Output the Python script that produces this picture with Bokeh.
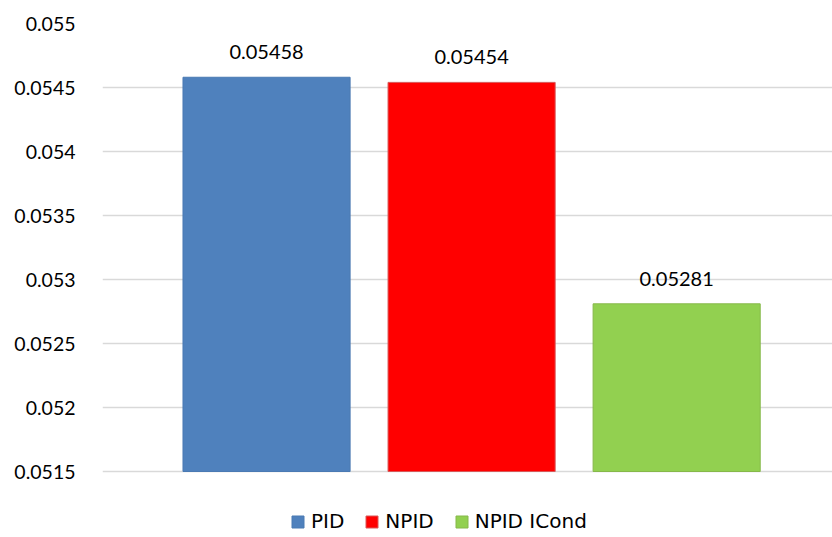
from bokeh.plotting import figure
from bokeh.models import (ColumnDataSource, Range1d, FixedTicker, CustomJSTickFormatter,
                          Legend, LegendItem, LabelSet)
from bokeh.core.properties import value
from bokeh.embed import file_html
from bokeh.resources import INLINE

# Data
series = ["PID", "NPID", "NPID ICond"]
values = [0.05458, 0.05454, 0.05281]
labels = ["0.05458", "0.05454", "0.05281"]
fill_colors = ["#4F81BD", "#FF0000", "#92D050"]
line_colors = ["#4A7AB3", "#D85858", "#86B84A"]
y_ticks = [0.0515, 0.052, 0.0525, 0.053, 0.0535, 0.054, 0.0545, 0.055]

FONT = "Lato"
LEGEND_FONT = "DejaVu Sans"

# leave room under the baseline for the legend (66 px at 64 px per step)
step = y_ticks[1] - y_ticks[0]
y_start = y_ticks[0] - step * 66 / 64

source = ColumnDataSource(dict(
    x=list(range(len(series))),
    top=values,
    label=labels,
))

p = figure(width=832, height=537, output_backend="svg", toolbar_location=None,
           x_range=Range1d(-0.80, 2.76), y_range=Range1d(y_start, y_ticks[-1]))

p.min_border_left = 102
p.min_border_right = 0
p.min_border_top = 23
p.min_border_bottom = 0
p.outline_line_color = None
p.background_fill_color = "white"
p.border_fill_color = "white"

renderers = []
for i in range(len(series)):
    bar_src = ColumnDataSource(dict(x=[source.data["x"][i]], top=[values[i]]))
    r = p.vbar(x="x", top="top", bottom=y_ticks[0], width=0.815, source=bar_src,
               fill_color=fill_colors[i], line_color=line_colors[i], line_width=1)
    renderers.append(r)

lbl = LabelSet(x="x", y="top", text="label", source=source, text_align="center",
               text_baseline="bottom", y_offset=18, text_font=value(FONT),
               text_font_size=value("20px"), text_color="#000000")
p.add_layout(lbl)

# Axes
p.xaxis.visible = False
p.yaxis.ticker = FixedTicker(ticks=y_ticks)
p.yaxis.formatter = CustomJSTickFormatter(code="return String(parseFloat(tick.toFixed(5)));")
p.yaxis.axis_line_color = None
p.yaxis.major_tick_line_color = None
p.yaxis.minor_tick_line_color = None
p.yaxis.major_label_text_font = FONT
p.yaxis.major_label_text_font_size = "19.5px"
p.yaxis.major_label_text_color = "#000000"
p.yaxis.major_label_standoff = 21

p.xgrid.visible = False
p.ygrid.ticker = FixedTicker(ticks=y_ticks)
p.ygrid.grid_line_color = "#D9D9D9"
p.ygrid.grid_line_width = 1.5

legend = Legend(items=[LegendItem(label=series[i], renderers=[renderers[i]]) for i in range(len(series))],
                orientation="horizontal", location=(188, 4),
                label_text_font=LEGEND_FONT, label_text_font_size="20px",
                label_text_color="#000000", label_height=15,
                glyph_width=15, glyph_height=15, spacing=20, label_standoff=6,
                border_line_color=None, background_fill_alpha=0,
                margin=0, padding=0)
p.add_layout(legend)

open("out.html", "w").write(file_html(p, INLINE))
